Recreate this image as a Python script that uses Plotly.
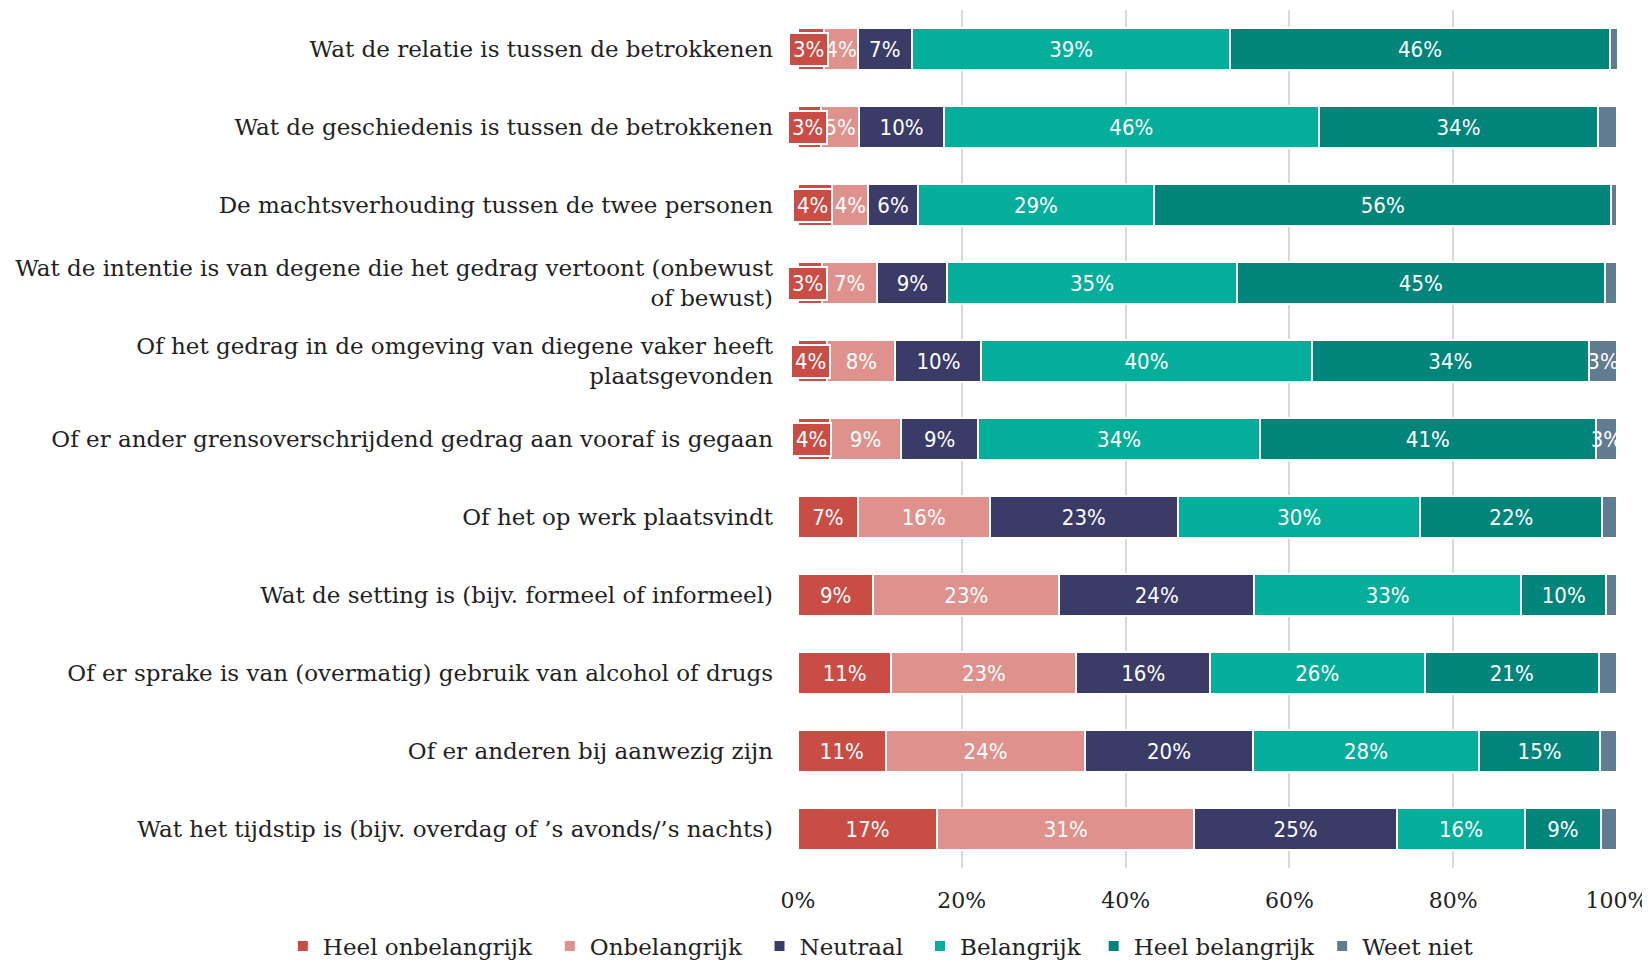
import plotly.graph_objects as go

categories = [
    "Wat de relatie is tussen de betrokkenen",
    "Wat de geschiedenis is tussen de betrokkenen",
    "De machtsverhouding tussen de twee personen",
    "Wat de intentie is van degene die het gedrag vertoont (onbewust<br>of bewust)",
    "Of het gedrag in de omgeving van diegene vaker heeft<br>plaatsgevonden",
    "Of er ander grensoverschrijdend gedrag aan vooraf is gegaan",
    "Of het op werk plaatsvindt",
    "Wat de setting is (bijv. formeel of informeel)",
    "Of er sprake is van (overmatig) gebruik van alcohol of drugs",
    "Of er anderen bij aanwezig zijn",
    "Wat het tijdstip is (bijv. overdag of \u2019s avonds/\u2019s nachts)",
]

series_names = ["Heel onbelangrijk", "Onbelangrijk", "Neutraal", "Belangrijk", "Heel belangrijk", "Weet niet"]

heel_onbelangrijk = [3.2, 2.8, 4.2, 2.9, 3.6, 3.9, 7.3, 9.2, 11.4, 10.7, 17.0]
onbelangrijk      = [4.1, 4.7, 4.4, 6.8, 8.3, 8.7, 16.1, 22.7, 22.6, 24.4, 31.4]
neutraal          = [6.6, 10.3, 6.0, 8.55, 10.5, 9.4, 23.0, 23.8, 16.3, 20.4, 24.7]
belangrijk        = [38.9, 45.8, 28.9, 35.3, 40.3, 34.4, 29.6, 32.6, 26.2, 27.7, 15.7]
heel_belangrijk   = [46.3, 34.1, 55.8, 45.0, 33.9, 41.0, 22.2, 10.4, 21.3, 14.7, 9.2]
weet_niet         = [1.0, 2.3, 0.7, 1.45, 3.4, 2.6, 1.8, 1.3, 2.2, 2.1, 2.0]

colors = ["#c94d45", "#df928d", "#3a3b67", "#04ae9a", "#01847a", "#617b90"]

x_tickvals = [0, 20, 40, 60, 80, 100]
x_ticktext = ["0%", "20%", "40%", "60%", "80%", "100%"]

all_series = [heel_onbelangrijk, onbelangrijk, neutraal, belangrijk, heel_belangrijk, weet_niet]

LABEL_FONT = "Liberation Sans Narrow, DejaVu Sans Condensed, sans-serif"
SERIF = "DejaVu Serif, Liberation Serif, serif"

# legend entry positions (paper x) so entries are spaced like the original
legend_x = [-0.629, -0.303, -0.047, 0.149, 0.361, 0.640]

fig = go.Figure()
for si, (name, vals, col) in enumerate(zip(series_names, all_series, colors)):
    texts = []
    for v in vals:
        if si == 0 and v < 5:
            texts.append("")  # shown as boxed annotation instead
        elif v >= 2.5:
            texts.append(f"{round(v)}%")
        else:
            texts.append("")
    fig.add_trace(go.Bar(
        name=name, y=categories, x=vals, orientation="h",
        marker=dict(color=col, line=dict(color="white", width=2)),
        text=texts, textposition="inside", insidetextanchor="middle",
        textangle=0, constraintext="none",
        textfont=dict(family=LABEL_FONT, size=22, color="white"),
        hoverinfo="skip",
        legend="legend" if si == 0 else f"legend{si + 1}",
    ))

annotations = []
for cat, v in zip(categories, heel_onbelangrijk):
    if v < 5:
        annotations.append(dict(
            x=v / 2 - 0.3, y=cat, xref="x", yref="y", text=f"{round(v)}%",
            showarrow=False, bgcolor=colors[0], bordercolor="white",
            borderwidth=2, borderpad=3,
            font=dict(family=LABEL_FONT, size=22, color="white"),
        ))

legends = {}
for si in range(len(series_names)):
    key = "legend" if si == 0 else f"legend{si + 1}"
    legends[key] = dict(
        orientation="h", x=legend_x[si], xanchor="left", y=-0.091, yanchor="middle",
        font=dict(family=SERIF, size=23, color="#222222"),
        bgcolor="rgba(0,0,0,0)", itemwidth=30,
    )

# the page body adds an 8px offset; the figure is sized to fit the 1650x961 window
fig.update_layout(
    barmode="stack",
    bargap=0.46,
    width=1642, height=953,
    margin=dict(l=790, r=33, t=2, b=93, autoexpand=False),
    paper_bgcolor="white", plot_bgcolor="white",
    annotations=annotations,
    showlegend=True,
    xaxis=dict(
        range=[0, 100], tickvals=x_tickvals, ticktext=x_ticktext,
        showgrid=True, gridcolor="#d9d9d9", gridwidth=1.5,
        zeroline=False, showline=False, ticks="",
        ticklabelstandoff=17, ticklabeloverflow="allow",
        tickfont=dict(family=SERIF, size=22, color="#222222"),
        fixedrange=True,
    ),
    yaxis=dict(
        autorange="reversed", showgrid=False, zeroline=False, showline=False,
        ticks="", ticklabelstandoff=24,
        tickfont=dict(family=SERIF, size=23, color="#222222"),
        fixedrange=True,
    ),
    **legends,
)

fig.write_html("out.html")
